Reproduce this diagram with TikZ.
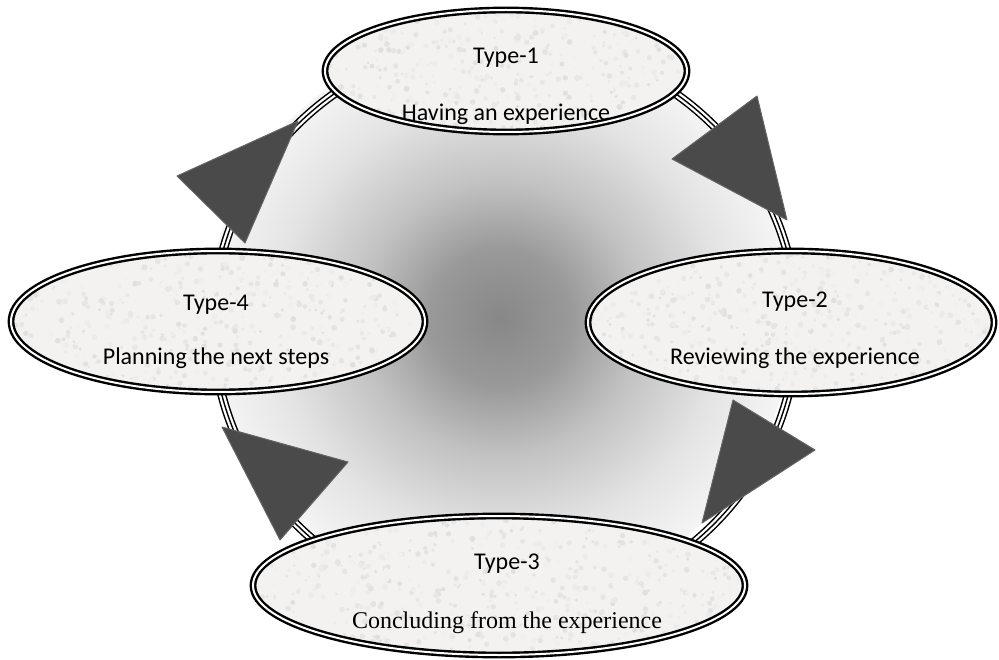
\documentclass[tikz,border=0pt]{standalone}
\usepackage{fontspec}
\setmainfont{Carlito}
\newfontfamily\timesfont{Liberation Serif}
\usepackage{tikz}
\usetikzlibrary{shapes}
\usetikzlibrary{calc}
\usepackage{xcolor}
\definecolor{granite}{HTML}{F3F2F1}
\definecolor{pyr}{HTML}{4A4A4A}
\pgfdeclareradialshading{hub}{\pgfpoint{0bp}{0bp}}{color(0bp)=(black!47); color(6bp)=(black!40); color(12bp)=(black!24); color(19bp)=(black!11); color(25bp)=(black!4); color(29bp)=(white); color(50bp)=(white)}
\tikzstyle{speckle}=[path picture={\foreach \k in {1,...,800}{\pgfmathsetmacro\sx{(rnd-0.5)*500}\pgfmathsetmacro\sy{(rnd-0.5)*150}\pgfmathsetmacro\sc{int(5+8*rnd)}\pgfmathsetmacro\sr{1.4+1.6*rnd}\fill[black!\sc] ([shift={(\sx pt,\sy pt)}]path picture bounding box.center) circle (\sr pt);}}]
\tikzstyle{stage}=[ellipse, inner sep=0pt, fill=granite, speckle, draw=black, line width=2.4pt, double=white, double distance=2pt]
\tikzstyle{caption}=[anchor=base, inner sep=0pt, font=\fontsize{24}{28}\selectfont]
\tikzstyle{pyramid}=[fill=pyr, draw=pyr!85!white, line width=1pt, line join=round]

\begin{document}
\begin{tikzpicture}[x=1pt,y=-1pt]
\pgfmathsetseed{7}
\useasboundingbox (0,0) rectangle (999,660);
\coordinate (hub) at (500,318);
\shade[shading=hub] (hub) ellipse [x radius=292, y radius=285];
\foreach \w/\c in {9/black,6/white,1.4/black}
  \draw[\c, line width=\w pt] (505,325) ellipse [x radius=292, y radius=285];
\draw[pyramid] (177,176) -- (298,121) -- (245,243) -- cycle;
\draw[pyramid] (672,159) -- (757,96) -- (787,220) -- cycle;
\draw[pyramid] (733,400) -- (815,450) -- (702,523) -- cycle;
\draw[pyramid] (348,462) -- (222,427) -- (280,540) -- cycle;
\node[stage, minimum width=362pt, minimum height=122pt] (e1) at (506,71) {};
\node[stage, minimum width=406pt, minimum height=143pt] (e2) at (791,322.5) {};
\node[stage, minimum width=492pt, minimum height=139pt] (e3) at (499,585.5) {};
\node[stage, minimum width=414pt, minimum height=141pt] (e4) at (218,321.5) {};
\node[caption] (t1) at (506,64) {Type-1};
\node[caption] (d1) at (506,121) {Having an experience};
\node[caption] (t2) at (795,308) {Type-2};
\node[caption] (d2) at (795,365) {Reviewing the experience};
\node[caption] (t3) at (507,569) {Type-3};
\node[caption] (d3) at (507,628) {\timesfont Concluding from the experience};
\node[caption] (t4) at (216,311) {Type-4};
\node[caption] (d4) at (216,365) {Planning the next steps};
\end{tikzpicture}
\end{document}
